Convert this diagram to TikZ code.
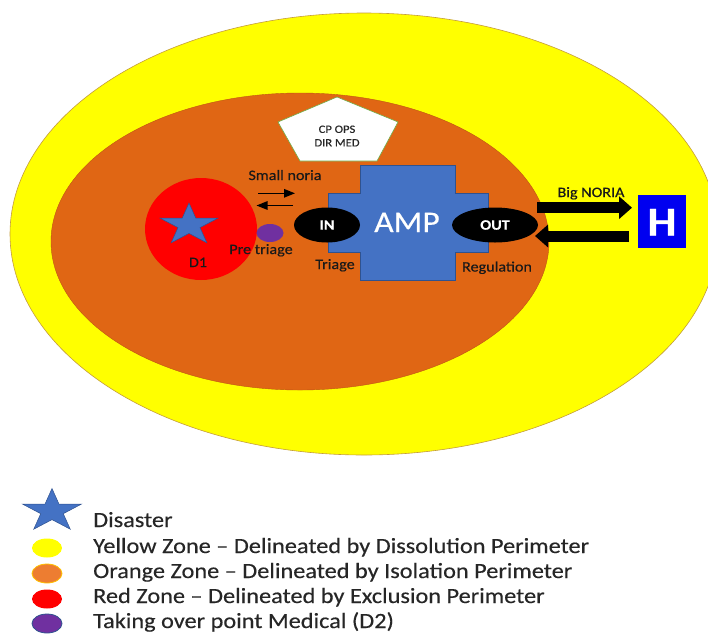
\documentclass[tikz,border=0pt]{standalone}
\usepackage{fontspec}
\setmainfont[FakeStretch=1.12, FakeBold=0.35]{Carlito}
\usetikzlibrary{shapes.geometric,arrows.meta}

\definecolor{zoneyellow}{RGB}{255,255,0}
\definecolor{yellowrim}{RGB}{196,156,60}
\definecolor{zoneorange}{RGB}{224,102,20}
\definecolor{legendorange}{RGB}{237,125,49}
\definecolor{legendrim}{RGB}{255,192,0}
\definecolor{zonered}{RGB}{255,0,0}
\definecolor{starblue}{RGB}{68,114,196}
\definecolor{darkblue}{RGB}{47,82,143}
\definecolor{takepurple}{RGB}{112,48,160}
\definecolor{pentagreen}{RGB}{112,173,71}
\definecolor{hospblue}{RGB}{0,0,240}

\begin{document}
\begin{tikzpicture}[x=1pt,y=-1pt,
  lbl/.style={font=\fontsize{14.4}{16}\selectfont, text=black!90, inner sep=0pt, anchor=base},
  legendtext/.style={font=\fontsize{21.7}{25}\selectfont, text=black!85, inner sep=0pt, anchor=base west},
  portal/.style={ellipse, fill=black, minimum height=35pt, inner sep=0pt, text=white,
    font=\bfseries\fontsize{14.4}{16}\selectfont},
  legenddot/.style={ellipse, minimum width=30pt, minimum height=19pt, inner sep=0pt},
  bluestar/.style={star, star points=5, star point ratio=2.618, fill=starblue, draw=darkblue,
    line width=0.5pt, inner sep=0pt, xscale=1.38, transform shape},
  smallnoria/.style={line width=1.4pt, -{Triangle[length=11pt,width=8.5pt]}},
  bignoria/.style={line width=11pt, -{Triangle[length=13pt,width=22pt]}},
  ]
\useasboundingbox (0,0) rectangle (708,635);

% zones
\begin{scope}
  \clip (0,0) rectangle (708,635);
  \filldraw[fill=zoneyellow, draw=yellowrim, line width=0.6pt]
    (364,234) ellipse [x radius=354pt, y radius=221pt];
\end{scope}
\filldraw[fill=zoneorange, draw=zoneorange!85!black, line width=0.4pt]
  (300,241.5) ellipse [x radius=249pt, y radius=148.5pt];
\fill[zonered] (201,229) ellipse [x radius=56pt, y radius=51pt];

% disaster site and pre-triage point
\node[bluestar, minimum size=44pt] (disaster) at (189,225) {};
\node[ellipse, fill=takepurple, minimum width=27pt, minimum height=18pt, inner sep=0pt] (pretri) at (270,233) {};
\node[lbl] (d1) at (198,267) {D1};
\node[lbl] (pretrilbl) at (261,254) {Pre triage};

% command post
\filldraw[fill=white, draw=pentagreen, line width=0.6pt]
  (337,97) -- (398,122) -- (377,161) -- (300,161) -- (278,122) -- cycle;
\node[align=center, inner sep=0pt, font=\fontsize{11.2}{13.5}\selectfont, text=black!85] (cpops) at (337,136) {CP OPS\\DIR MED};

% advanced medical post
\filldraw[fill=starblue, draw=darkblue, line width=0.6pt]
  (328,193) -- (360,193) -- (360,165) -- (455,165) -- (455,193) -- (488,193)
  -- (488,252) -- (455,252) -- (455,280) -- (360,280) -- (360,252) -- (328,252) -- cycle;
\node[inner sep=0pt, anchor=base, text=white, font=\fontsize{30}{32}\selectfont] (amp) at (407,232) {AMP};
\node[portal, minimum width=66pt] (in) at (327,225) {IN};
\node[portal, minimum width=86pt] (out) at (495,225) {OUT};
\node[lbl] (triage) at (335,269) {Triage};
\node[lbl] (regul) at (497,271.5) {Regulation};

% small noria
\node[lbl] (smallnoria) at (285,180) {Small noria};
\coordinate (sn1) at (258,193.3);
\coordinate (sn2) at (295,193.3);
\coordinate (sn3) at (293,205.5);
\coordinate (sn4) at (256.5,205.5);
\draw[smallnoria] (sn1) -- (sn2);
\draw[smallnoria] (sn3) -- (sn4);

% hospital and big noria
\node[fill=hospblue, minimum width=48pt, minimum height=53pt, inner sep=0pt] (hosp) at (662,221.5) {};
\node[inner sep=0pt, anchor=base, text=white, font=\bfseries\fontsize{41}{41}\selectfont] (hlbl) at (662,235.5) {H};
\node[lbl] (bignorialbl) at (591,197) {Big NORIA};
\coordinate (bn1) at (537,207.7);
\coordinate (bn2) at (632,207.7);
\coordinate (bn3) at (629,236);
\coordinate (bn4) at (535,236);
\draw[bignoria] (bn1) -- (bn2);
\draw[bignoria] (bn3) -- (bn4);

% legend
\node[bluestar, minimum size=45pt] (lgstar) at (52,511) {};
\node[legendtext] (lgt1) at (93,527) {Disaster};
\node[legenddot, fill=zoneyellow] (lgd2) at (47,548) {};
\node[legendtext] (lgt2) at (93,553) {Yellow Zone – Delineated by Dissolution Perimeter};
\node[legenddot, fill=legendorange, draw=legendrim, line width=0.8pt] (lgd3) at (47,573.5) {};
\node[legendtext] (lgt3) at (93,578) {Orange Zone – Delineated by Isolation Perimeter};
\node[legenddot, fill=zonered] (lgd4) at (47,599) {};
\node[legendtext] (lgt4) at (93,603) {Red Zone – Delineated by Exclusion Perimeter};
\node[legenddot, fill=takepurple, draw=darkblue, line width=0.8pt] (lgd5) at (47,623.5) {};
\node[legendtext] (lgt5) at (93,628) {Taking over point Medical (D2)};
\end{tikzpicture}
\end{document}
